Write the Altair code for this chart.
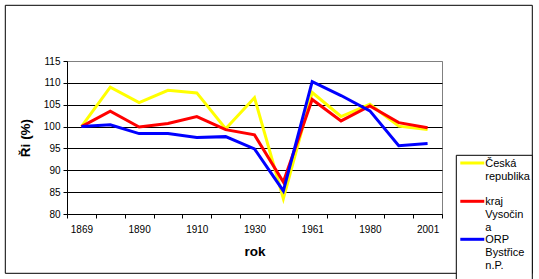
import altair as alt
import pandas as pd

years = ["1869", "1880", "1890", "1900", "1910", "1921", "1930",
         "1950", "1961", "1970", "1980", "1991", "2001"]
shown_years = ["1869", "1890", "1910", "1930", "1961", "1980", "2001"]
ceska = [100, 109.0, 105.5, 108.3, 107.7, 99.5, 106.6, 83.5, 107.8, 102.3, 105.1, 100.1, 99.3]
vysocina = [100, 103.5, 99.9, 100.7, 102.3, 99.3, 98.1, 87.3, 106.2, 101.3, 104.7, 100.9, 99.75]
orp = [100, 100.4, 98.4, 98.4, 97.5, 97.7, 94.9, 85.3, 110.3, 107.1, 103.6, 95.6, 96.1]
series_names = ["Česká republika", "kraj Vysočina", "ORP Bystřice n.P."]
legend_texts = ["Česká\nrepublika", "kraj\nVysočin\na", "ORP\nBystřice\nn.P."]
colors = ["#FFFF00", "#FF0000", "#0000FF"]
y_ticks = [80, 85, 90, 95, 100, 105, 110, 115]

FONT = "Liberation Sans"
series_values = [ceska, vysocina, orp]

x_enc = alt.X(
    "year:O",
    sort=years,
    bandPosition=0.5,
    scale=alt.Scale(type="band", domain=years, paddingInner=0, paddingOuter=0),
    axis=alt.Axis(
        tickBand="extent",
        labelAngle=0,
        labelExpr="indexof(" + str(shown_years) + ", datum.label) >= 0 ? datum.label : ''",
        labelFont=FONT, labelFontSize=10, labelColor="black", labelPadding=6,
        tickSize=4, tickColor="black", domainColor="black",
        title="rok", titleFont=FONT, titleFontSize=13.5, titleFontWeight="bold",
        titleColor="black", titlePadding=10, grid=False,
    ),
)
y_enc = alt.Y(
    "value:Q",
    scale=alt.Scale(domain=[80, 115], nice=False, zero=False),
    axis=alt.Axis(
        values=y_ticks, grid=True,
        gridColor={"condition": {"test": "datum.value == 115", "value": "#808080"}, "value": "black"},
        gridOpacity=1,
        tickSize=4, tickColor="black", domainColor="black",
        labelFont=FONT, labelFontSize=10, labelColor="black", labelPadding=3,
        title="Ři (%)", titleFont=FONT, titleFontSize=13.5, titleFontWeight="bold",
        titleColor="black", titlePadding=11,
    ),
)

layers = []
for name, vals, col in zip(series_names, series_values, colors):
    df = pd.DataFrame({"year": years, "value": vals, "series": name})
    layers.append(
        alt.Chart(df).mark_line(color=col, strokeWidth=3, strokeJoin="miter").encode(x=x_enc, y=y_enc)
    )

dummy = pd.DataFrame({"a": [0]})
frame = alt.Chart(dummy).mark_rect(fillOpacity=0, stroke="black", strokeWidth=1).encode(
    x=alt.value(-61.7), x2=alt.value(465.3), y=alt.value(-55.7), y2=alt.value(212.3)
)
legend_box = alt.Chart(dummy).mark_rect(fill="white", stroke="black", strokeWidth=1).encode(
    x=alt.value(389.3), x2=alt.value(465.3), y=alt.value(94.3), y2=alt.value(225)
)
legend_layers = [frame, legend_box]
sym_y = [102, 140.3, 178.3]
txt_y = [106.3, 144.3, 182.3]
for txt, col, sy, ty in zip(legend_texts, colors, sym_y, txt_y):
    legend_layers.append(
        alt.Chart(dummy).mark_rule(color=col, strokeWidth=3).encode(
            x=alt.value(393.3), x2=alt.value(417.3), y=alt.value(sy)
        )
    )
    legend_layers.append(
        alt.Chart(dummy).mark_text(
            align="left", baseline="alphabetic", font=FONT, fontSize=11,
            lineBreak="\n", lineHeight=12.7, color="black"
        ).encode(x=alt.value(418.3), y=alt.value(ty), text=alt.value(txt))
    )

chart = alt.layer(*layers, *legend_layers).properties(
    width=375, height=153,
    autosize=alt.AutoSizeParams(type="none"),
    padding={"left": 67, "top": 61, "right": 97, "bottom": 65},
    background="white",
).configure_view(stroke="#808080", strokeWidth=1)

chart.save("out.html", embed_options={"renderer": "svg", "actions": False})
